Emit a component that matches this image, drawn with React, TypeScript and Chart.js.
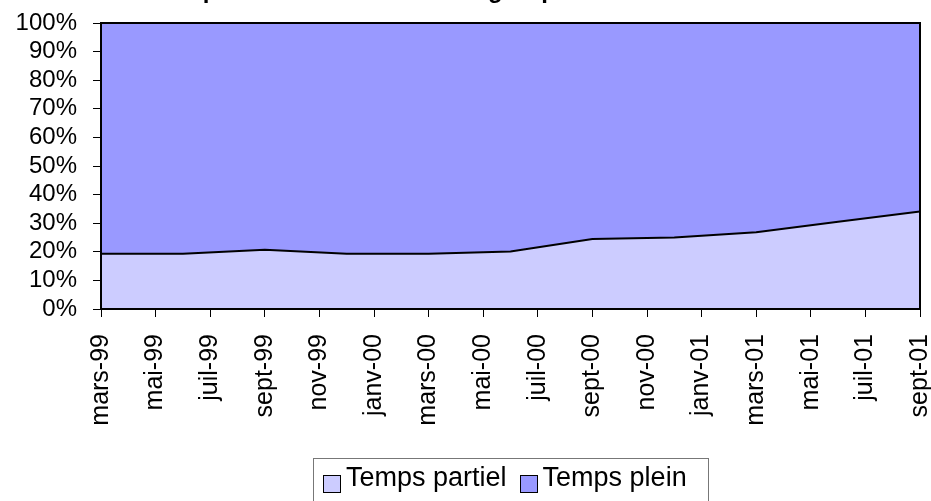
import React, { useEffect, useRef } from "react";
import { Chart, registerables } from "chart.js";

Chart.register(...registerables);

// Tick labels on the x axis (every 2 months, month index 0 = mars-99)
const monthLabels = [
  "mars-99", "mai-99", "juil-99", "sept-99", "nov-99", "janv-00",
  "mars-00", "mai-00", "juil-00", "sept-00", "nov-00", "janv-01",
  "mars-01", "mai-01", "juil-01", "sept-01",
];

// Quarterly observations: month index from mars-99
const obsMonths = [0, 3, 6, 9, 12, 15, 18, 21, 24, 27, 30];
// Share of part-time (%)
const tempsPartiel = [19.3, 19.3, 20.7, 19.3, 19.3, 20.1, 24.5, 25.0, 26.8, 30.5, 34.1];
// Share of full-time (%)
const tempsPlein = tempsPartiel.map((v) => 100 - v);

const seriesNames = ["Temps partiel", "Temps plein"];
const seriesColors = ["#CCCCFF", "#9999FF"];
const titleText = "Répartition des effectifs du groupe";

const FONT = "'Liberation Sans', Arial, sans-serif";

export default function App() {
  const ref = useRef<HTMLCanvasElement | null>(null);

  useEffect(() => {
    if (!ref.current) return;
    const frame = {
      id: "frame",
      afterDatasetsDraw(chart: any) {
        const { ctx, chartArea } = chart;
        ctx.save();
        ctx.strokeStyle = "#000";
        ctx.lineWidth = 2;
        ctx.strokeRect(chartArea.left, chartArea.top, chartArea.right - chartArea.left, chartArea.bottom - chartArea.top);
        ctx.restore();
      },
      afterDraw(chart: any) {
        const { ctx } = chart;
        ctx.save();
        ctx.fillStyle = "#000";
        ctx.font = `bold 24px ${FONT}`;
        ctx.textAlign = "left";
        ctx.textBaseline = "alphabetic";
        ctx.fillText(titleText, 172, -2);
        ctx.restore();
      },
    };
    const chart = new Chart(ref.current, {
      type: "line",
      data: {
        datasets: [
          {
            label: seriesNames[0],
            data: obsMonths.map((m, i) => ({ x: m, y: tempsPartiel[i] })),
            backgroundColor: seriesColors[0],
            borderColor: "#000",
            borderWidth: 2,
            pointRadius: 0,
            fill: "origin",
            tension: 0,
          },
          {
            label: seriesNames[1],
            data: obsMonths.map((m, i) => ({ x: m, y: tempsPlein[i] })),
            backgroundColor: seriesColors[1],
            borderColor: "#000",
            borderWidth: 2,
            pointRadius: 0,
            fill: "-1",
            tension: 0,
          },
        ],
      },
      options: {
        animation: false,
        responsive: false,
        maintainAspectRatio: false,
        layout: { padding: { top: 23, right: 11, left: 0, bottom: 0 } },
        plugins: { legend: { display: false }, title: { display: false }, tooltip: { enabled: false } },
        scales: {
          x: {
            type: "linear",
            min: 0,
            max: 30,
            afterBuildTicks: (s: any) => {
              s.ticks = monthLabels.map((_, i) => ({ value: i * 2 }));
            },
            afterFit: (s: any) => {
              s.height = 192;
              s.paddingLeft = 0;
              s.paddingRight = 0;
            },
            ticks: {
              autoSkip: false,
              maxRotation: 90,
              minRotation: 90,
              padding: 17,
              color: "#000",
              font: { family: FONT, size: 25 },
              callback: (v: any) => monthLabels[Math.round(Number(v) / 2)] ?? "",
            },
            grid: { drawOnChartArea: false, color: "#000", lineWidth: 1, tickLength: 8 },
            border: { color: "#000", width: 2 },
          },
          y: {
            stacked: true,
            min: 0,
            max: 100,
            afterFit: (s: any) => {
              s.width = 101;
              s.paddingTop = 0;
              s.paddingBottom = 0;
            },
            ticks: {
              stepSize: 10,
              autoSkip: false,
              padding: 16,
              color: "#000",
              font: { family: FONT, size: 24 },
              callback: (v: any) => `${v}%`,
            },
            grid: { drawOnChartArea: false, color: "#000", lineWidth: 1, tickLength: 8 },
            border: { color: "#000", width: 2 },
          },
        },
      },
      plugins: [frame],
    });
    return () => chart.destroy();
  }, []);

  return (
    <div style={{ position: "absolute", left: 0, top: 0, width: 931, height: 501, overflow: "hidden", background: "#fff" }}>
      <canvas ref={ref} width={931} height={501} style={{ position: "absolute", left: 0, top: 0, width: 931, height: 501 }} />
      <div
        style={{
          position: "absolute",
          left: 313,
          top: 458,
          width: 396,
          height: 70,
          border: "1px solid #777",
          boxSizing: "border-box",
          fontFamily: FONT,
          fontSize: 27,
          lineHeight: "26px",
          color: "#000",
        }}
      >
        <div style={{ display: "flex", alignItems: "flex-start", paddingTop: 5, paddingLeft: 9, whiteSpace: "nowrap" }}>
          {seriesNames.map((name, i) => (
            <React.Fragment key={name}>
              <span
                style={{
                  display: "inline-block",
                  width: 18,
                  height: 18,
                  boxSizing: "border-box",
                  border: "1.5px solid #000",
                  background: seriesColors[i],
                  marginTop: 11,
                  marginRight: 5,
                  marginLeft: i === 0 ? 0 : 13,
                }}
              />
              <span>{name}</span>
            </React.Fragment>
          ))}
        </div>
      </div>
    </div>
  );
}
